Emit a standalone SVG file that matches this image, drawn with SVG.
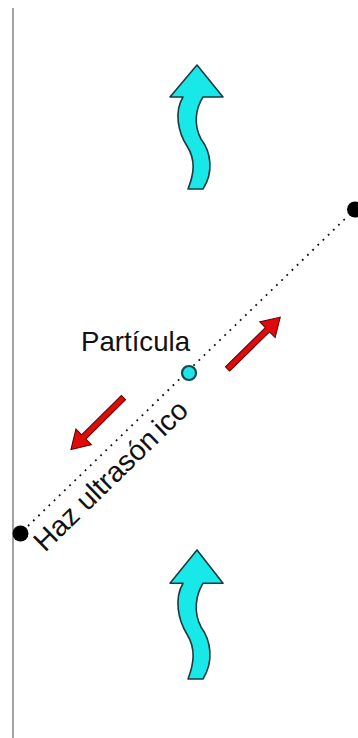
<svg xmlns="http://www.w3.org/2000/svg" xmlns:xlink="http://www.w3.org/1999/xlink" width="358" height="738" viewBox="0 0 358 738">
  <style>
    .label { font-family: "Liberation Sans", Arial, sans-serif; font-size: 28px; fill: #111; }
    .beam-label { font-size: 28.6px; }
    .wall { stroke: #999; stroke-width: 1.8; fill: none; }
    .beam { stroke: #111; stroke-width: 1.8; stroke-dasharray: 1.8 5.4; fill: none; }
    .end { fill: #000; }
    .flow { fill: #18e8e8; stroke: #1e3a3e; stroke-width: 1.6; stroke-linejoin: round; }
    .force { fill: #e00a0a; stroke: #5a0000; stroke-width: 1; stroke-linejoin: miter; }
    .particle { fill: #1ee6e6; stroke: #0c4a52; stroke-width: 2.2; }
  </style>
  <defs>
    <!-- wavy upward flow arrow -->
    <path id="flowArrow" d="M197,65 L223,97 L203,97 C196,108 193,124 201,139 C211,152 214,172 203,189 L188,189 C194,174 196,160 187,146 C178,132 174,112 183,97 L170,97 Z"/>
    <!-- straight force arrow pointing along +x, tail at origin -->
    <polygon id="forceArrow" points="0,-3 56,-3 56,-11 74,0 56,11 56,3 0,3"/>
  </defs>

  <rect width="358" height="738" fill="#fff"/>

  <!-- chamber wall -->
  <g id="wall">
    <line class="wall" x1="13" y1="8" x2="13" y2="738"/>
  </g>

  <!-- connectors: ultrasonic beam and force arrows -->
  <g id="connectors">
    <line class="beam" x1="28" y1="526" x2="347" y2="217"/>
    <use xlink:href="#forceArrow" class="force" transform="translate(227.5,369) rotate(-44.5)"/>
    <use xlink:href="#forceArrow" class="force" transform="translate(123.5,397.5) rotate(135.3)"/>
  </g>

  <!-- beam end points -->
  <g id="transducer-left">
    <circle class="end" cx="20.5" cy="533.5" r="8"/>
  </g>
  <g id="transducer-right">
    <circle class="end" cx="355" cy="209.5" r="8"/>
  </g>

  <!-- particle -->
  <g id="particle">
    <circle class="particle" cx="189" cy="373" r="7"/>
    <text class="label" x="81" y="350.5" textLength="109" lengthAdjust="spacingAndGlyphs">Partícula</text>
  </g>

  <!-- beam label -->
  <g id="beam-label">
    <text class="label beam-label" transform="translate(45,553) rotate(-44.2)">Haz ultrasón<tspan dx="5">ico</tspan></text>
  </g>

  <!-- flow arrows -->
  <g id="flow-top">
    <use xlink:href="#flowArrow" class="flow"/>
  </g>
  <g id="flow-bottom">
    <use xlink:href="#flowArrow" class="flow" transform="translate(197,550) scale(1,1.04) translate(-197,-65)"/>
  </g>
</svg>
